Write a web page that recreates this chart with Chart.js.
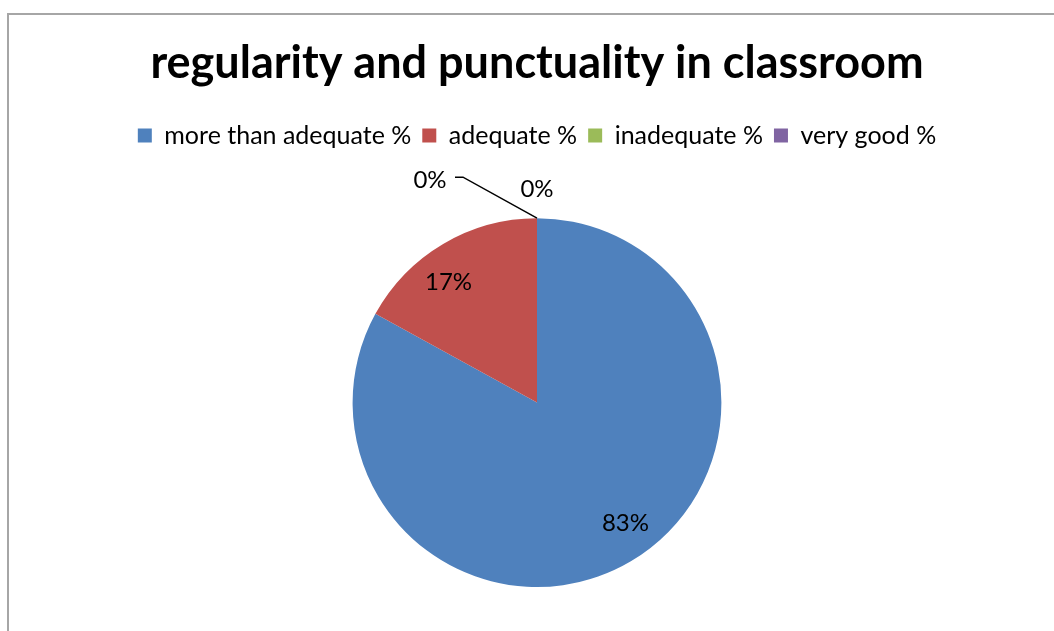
<!DOCTYPE html>
<html lang="en">
  <head>
    <meta charset="UTF-8" />
    <title>regularity and punctuality in classroom</title>
    <script src="https://cdn.jsdelivr.net/npm/chart.js@4.4.0/dist/chart.umd.min.js"></script>
    <style>
      html, body { margin: 0; padding: 0; background: #fff; overflow: hidden; }
      #frame { position: absolute; left: 7px; top: 13px; width: 1200px; height: 800px; border: 2px solid #a6a6a6; }
      #wrap { position: absolute; left: 0; top: 0; width: 1054px; height: 631px; }
    </style>
  </head>
  <body>
    <div id="frame"></div>
    <div id="wrap"><canvas id="myChart"></canvas></div>

    <script>
      const chartTitle = 'regularity and punctuality in classroom';
      const categories = ['more than adequate %', 'adequate %', 'inadequate %', 'very good %'];
      const percents = [83, 17, 0, 0];
      const colours = ['#4F81BD', '#C0504D', '#9BBB59', '#8064A2'];
      const FONT = 'Lato, "Open Sans", sans-serif';

      // draws the % labels, Excel style; zero slices get pushed outside
      const sliceLabels = {
        id: 'sliceLabels',
        afterDatasetsDraw(chart) {
          const ctx = chart.ctx;
          const arcs = chart.getDatasetMeta(0).data;
          ctx.save();
          ctx.font = '24px ' + FONT;
          ctx.fillStyle = '#000';
          ctx.textAlign = 'center';
          ctx.textBaseline = 'middle';
          let zeroCount = 0;
          arcs.forEach(function(arc, i) {
            const v = percents[i];
            const txt = v + '%';
            const mid = (arc.startAngle + arc.endAngle) / 2;
            if (v > 0) {
              // excel's "best fit" sits a little anticlockwise of the middle
              const a = mid - 0.1;
              const d = arc.outerRadius * 0.81;
              ctx.fillText(txt, arc.x + Math.cos(a) * d, arc.y + Math.sin(a) * d);
            } else {
              const ex = arc.x + Math.cos(mid) * arc.outerRadius;
              const ey = arc.y + Math.sin(mid) * arc.outerRadius;
              if (zeroCount === 0) {
                // leader line out to the left
                ctx.strokeStyle = '#000';
                ctx.lineWidth = 1.5;
                ctx.beginPath();
                ctx.moveTo(ex, ey);
                ctx.lineTo(ex - 74, ey - 41);
                ctx.lineTo(ex - 82, ey - 41);
                ctx.stroke();
                ctx.fillText(txt, ex - 107, ey - 38);
              } else {
                ctx.fillText(txt, ex, ey - 29);
              }
              zeroCount++;
            }
          });
          ctx.restore();
        }
      };

      const ctx = document.getElementById('myChart').getContext('2d');
      const myChart = new Chart(ctx, {
        type: 'pie',
        data: {
          labels: categories,
          datasets: [{
            data: percents,
            backgroundColor: colours,
            borderWidth: 0
          }]
        },
        options: {
          responsive: true,
          maintainAspectRatio: false,
          animation: false,
          layout: { padding: { left: 20, right: 0, top: 0, bottom: 44 } },
          plugins: {
            title: {
              display: true,
              text: chartTitle,
              color: '#000',
              font: { family: FONT, size: 45, weight: 'bold' },
              padding: { top: 36, bottom: 22 }
            },
            legend: {
              display: true,
              position: 'top',
              labels: {
                color: '#000',
                font: { family: FONT, size: 25 },
                boxWidth: 14,
                boxHeight: 14,
                padding: 11
              }
            },
            subtitle: {
              // empty spacer between legend and pie
              display: true,
              text: '',
              weight: 500,
              font: { size: 1 },
              padding: { top: 59, bottom: 0 }
            },
            tooltip: { enabled: false }
          }
        },
        plugins: [sliceLabels]
      });
    </script>
  </body>
</html>
